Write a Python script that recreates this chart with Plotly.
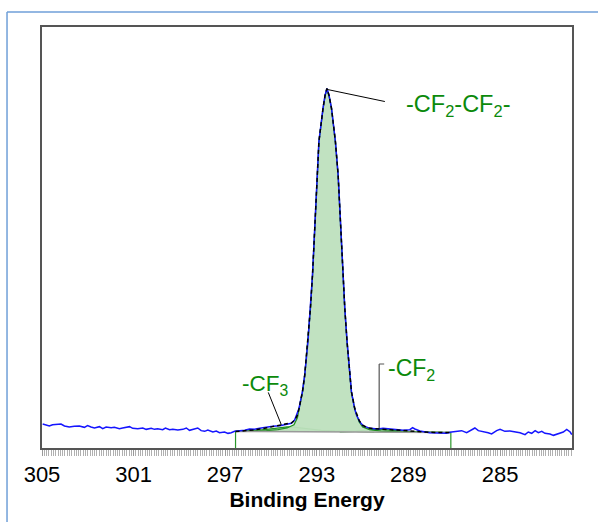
import plotly.graph_objects as go

# ---------------- data ----------------
raw_be = [304.97, 304.83, 304.68, 304.54, 304.32, 304.17, 304.02, 303.81, 303.59, 303.37,
          303.15, 303.01, 302.86, 302.71, 302.49, 302.35, 302.20, 301.98, 301.84, 301.62,
          301.48, 301.18, 301.04, 300.82, 300.60, 300.45, 300.23, 300.09, 299.95, 299.73,
          299.61, 299.43, 299.29, 299.07, 298.85, 298.70, 298.56, 298.41, 298.20, 298.05,
          297.90, 297.76, 297.54, 297.39, 297.25, 297.03, 296.88, 296.74, 296.59, 296.37,
          296.15, 295.94, 295.72, 295.50, 295.21, 294.92, 294.62, 294.33, 294.11, 293.97,
          293.89, 293.78, 293.63, 293.53, 293.39, 293.28, 293.19, 293.12, 293.05, 292.99,
          292.91, 292.73, 292.64, 292.56, 292.47, 292.36, 292.19, 292.07, 292.00, 291.93,
          291.86, 291.78, 291.68, 291.56, 291.49, 291.36, 291.27, 291.13, 290.98, 290.69,
          290.33, 290.11, 289.81, 289.52, 289.23, 288.94, 288.82, 288.72, 288.50, 288.07,
          287.63, 287.34, 287.12, 286.90, 286.68, 286.46, 286.24, 286.10, 285.95, 285.73,
          285.52, 285.37, 285.15, 285.00, 284.79, 284.57, 284.35, 284.13, 283.91, 283.77,
          283.62, 283.47, 283.33, 283.18, 283.04, 282.82, 282.67, 282.46, 282.24, 282.09,
          281.94, 281.87]
raw_int = [5.70, 5.39, 5.23, 5.54, 5.62, 5.70, 5.23, 4.99, 5.15, 5.23,
           4.91, 5.31, 4.99, 4.75, 5.07, 4.59, 4.99, 4.83, 4.91, 4.59,
           4.75, 5.07, 4.67, 4.59, 4.75, 4.43, 4.67, 4.43, 4.59, 4.35,
           4.75, 4.35, 4.43, 4.28, 4.43, 4.75, 4.20, 4.43, 4.75, 4.12,
           3.96, 4.28, 3.80, 4.04, 3.64, 3.80, 3.48, 3.64, 3.96, 4.12,
           4.20, 4.51, 4.43, 4.67, 4.99, 5.15, 5.31, 5.62, 5.86, 6.65,
           7.84, 9.40, 13.4, 17.3, 25.2, 33.2, 41.1, 49.0, 56.9, 64.8,
           72.8, 80.7, 83.8, 85.4, 83.8, 80.7, 72.8, 64.8, 56.9, 49.0,
           41.1, 33.2, 25.2, 17.3, 13.4, 9.6, 7.84, 6.25, 5.31, 4.67,
           4.51, 4.67, 4.51, 4.35, 4.20, 4.35, 4.83, 4.51, 4.04, 3.63,
           3.56, 3.49, 3.80, 3.96, 4.12, 3.63, 4.43, 4.75, 4.12, 3.96,
           3.63, 3.33, 4.12, 4.43, 3.96, 4.04, 3.80, 3.63, 3.17, 3.80,
           3.49, 4.12, 3.63, 3.96, 3.49, 3.33, 3.01, 3.41, 3.80, 4.43,
           3.80, 3.17]

# fit region and linear background
bg_be = [296.55, 287.15]
bg_int = [3.92, 3.68]

# main component -CF2-CF2- (absolute, incl. background)
main_be = [296.55, 295.8, 295.2, 294.7, 294.3, 294.0, 293.85, 293.78, 293.63, 293.53,
           293.39, 293.28, 293.19, 293.12, 293.05, 292.99, 292.91, 292.73, 292.64, 292.56,
           292.47, 292.36, 292.19, 292.07, 292.00, 291.93, 291.86, 291.78, 291.68, 291.56,
           291.49, 291.34, 291.15, 291.0, 290.7, 290.2, 289.5, 288.5, 287.15]
main_int = [3.93, 4.02, 4.15, 4.35, 4.75, 5.5, 7.2, 9.2, 13.2, 17.2,
            25.1, 33.1, 41.0, 48.9, 56.8, 64.7, 72.7, 80.6, 83.7, 85.3,
            83.7, 80.6, 72.7, 64.7, 56.8, 48.9, 41.0, 33.1, 25.1, 17.2,
            13.2, 9.1, 6.2, 5.0, 4.35, 4.0, 3.82, 3.73, 3.69]

# -CF3 component
cf3_be = [296.55, 296.0, 295.5, 295.0, 294.6, 294.3, 294.0, 293.6, 293.2, 292.8, 292.2, 291.5, 290.5]
cf3_int = [3.93, 4.05, 4.25, 4.55, 4.85, 5.02, 4.95, 4.70, 4.40, 4.20, 4.05, 3.95, 3.86]

# -CF2 component
cf2_be = [292.0, 291.3, 290.9, 290.5, 290.1, 289.6, 289.0, 288.3, 287.5]
cf2_int = [3.81, 3.95, 4.25, 4.45, 4.40, 4.15, 3.95, 3.80, 3.72]

# envelope (sum of fit)
env_be = [296.55, 296.2, 295.8, 295.4, 295.0, 294.6, 294.3, 294.1, 293.95, 293.85,
          293.78, 293.63, 293.53, 293.39, 293.28, 293.19, 293.12, 293.05, 292.99, 292.91,
          292.73, 292.64, 292.56, 292.47, 292.36, 292.19, 292.07, 292.00, 291.93, 291.86,
          291.78, 291.68, 291.56, 291.49, 291.34, 291.15, 291.0, 290.8, 290.5, 290.2,
          289.8, 289.4, 289.0, 288.5, 288.0, 287.15]
env_int = [3.93, 4.05, 4.25, 4.55, 4.95, 5.35, 5.7, 6.0, 6.7, 7.8,
           9.3, 13.3, 17.3, 25.2, 33.2, 41.1, 49.0, 56.9, 64.8, 72.8,
           80.7, 83.8, 85.4, 83.8, 80.7, 72.8, 64.8, 56.9, 49.0, 41.1,
           33.2, 25.2, 17.3, 13.4, 9.3, 6.5, 5.4, 4.8, 4.6, 4.5,
           4.35, 4.15, 3.95, 3.8, 3.72, 3.68]

tick_vals = [305, 301, 297, 293, 289, 285]

FONT = "Liberation Sans, Arial, Helvetica, sans-serif"
GREEN_TXT = "#0b8a0b"
FILL = "rgba(190,224,190,0.95)"
OUTLINE = "#1f8f1f"

fig = go.Figure()

# components with fill against background
for cbe, cint in [(cf3_be, cf3_int), (cf2_be, cf2_int), (main_be, main_int)]:
    fig.add_trace(go.Scatter(x=bg_be, y=bg_int, mode="lines",
                             line=dict(width=0, color="rgba(0,0,0,0)"),
                             hoverinfo="skip", showlegend=False))
    fig.add_trace(go.Scatter(x=cbe, y=cint, mode="lines", fill="tonexty",
                             fillcolor=FILL, line=dict(color=OUTLINE, width=1.3),
                             showlegend=False))

# background line
fig.add_trace(go.Scatter(x=bg_be, y=bg_int, mode="lines",
                         line=dict(color="#9a9a9a", width=1.5), showlegend=False))

# region markers
for b, v in zip(bg_be, bg_int):
    fig.add_trace(go.Scatter(x=[b, b], y=[0, v], mode="lines",
                             line=dict(color="#2a962a", width=1.2), showlegend=False))

# raw data
fig.add_trace(go.Scatter(x=raw_be, y=raw_int, mode="lines",
                         line=dict(color="#1515ff", width=1.5), showlegend=False))

# envelope
fig.add_trace(go.Scatter(x=env_be, y=env_int, mode="lines",
                         line=dict(color="black", width=1.5, dash="4px,3px"),
                         showlegend=False))

shapes = []
# leader lines
shapes.append(dict(type="line", xref="x", yref="y", x0=292.58, y0=85.2, x1=290.03, y1=82.3,
                   line=dict(color="black", width=1)))
shapes.append(dict(type="line", xref="x", yref="y", x0=295.12, y0=13.2, x1=294.55, y1=5.5,
                   line=dict(color="black", width=1)))
shapes.append(dict(type="line", xref="x", yref="y", x0=290.28, y0=19.95, x1=290.28, y1=4.7,
                   line=dict(color="#333333", width=1)))
shapes.append(dict(type="line", xref="x", yref="y", x0=290.28, y0=19.95, x1=290.06, y1=19.95,
                   line=dict(color="#555555", width=1)))
# outer light-blue frame
shapes.append(dict(type="line", xref="paper", yref="paper", x0=-0.066, y0=1.0356, x1=1.06, y1=1.0356,
                   line=dict(color="#6f9fd8", width=1.5)))
shapes.append(dict(type="line", xref="paper", yref="paper", x0=-0.066, y0=1.0356, x1=-0.066, y1=-0.2,
                   line=dict(color="#6f9fd8", width=1.5)))

annotations = [
    dict(x=289.20, y=81.3, xref="x", yref="y", text="-CF<sub>2</sub>-CF<sub>2</sub>-",
         showarrow=False, xanchor="left", yanchor="middle",
         font=dict(family=FONT, size=23.5, color=GREEN_TXT)),
    dict(x=296.34, y=15.0, xref="x", yref="y", text="-CF<sub>3</sub>",
         showarrow=False, xanchor="left", yanchor="middle",
         font=dict(family=FONT, size=22.5, color=GREEN_TXT)),
    dict(x=289.97, y=18.7, xref="x", yref="y", text="-CF<sub>2</sub>",
         showarrow=False, xanchor="left", yanchor="middle",
         font=dict(family=FONT, size=23, color=GREEN_TXT)),
]

fig.update_layout(
    width=598, height=522,
    margin=dict(l=42, r=26, t=27, b=74, pad=0),
    paper_bgcolor="white", plot_bgcolor="white",
    font=dict(family=FONT, size=21, color="black"),
    showlegend=False,
    shapes=shapes,
    annotations=annotations,
    xaxis=dict(
        range=[305.0, 281.86],
        tickmode="array", tickvals=tick_vals,
        ticks="outside", ticklen=6, tickcolor="#9a9a9a", tickwidth=1,
        minor=dict(dtick=0.1, tick0=305, ticks="outside", ticklen=6,
                   tickcolor="#b0b0b0", tickwidth=1, showgrid=False),
        showline=True, mirror=True, linecolor="#555555", linewidth=1.5,
        showgrid=False, zeroline=False,
        tickfont=dict(family=FONT, size=22, color="black"),
        title=dict(text="<b>Binding Energy</b>", standoff=6,
                   font=dict(family=FONT, size=21, color="black")),
    ),
    yaxis=dict(
        range=[0, 100],
        showticklabels=False, ticks="",
        showline=True, mirror=True, linecolor="#555555", linewidth=1.5,
        showgrid=False, zeroline=False,
    ),
)

fig.write_html("out.html")
